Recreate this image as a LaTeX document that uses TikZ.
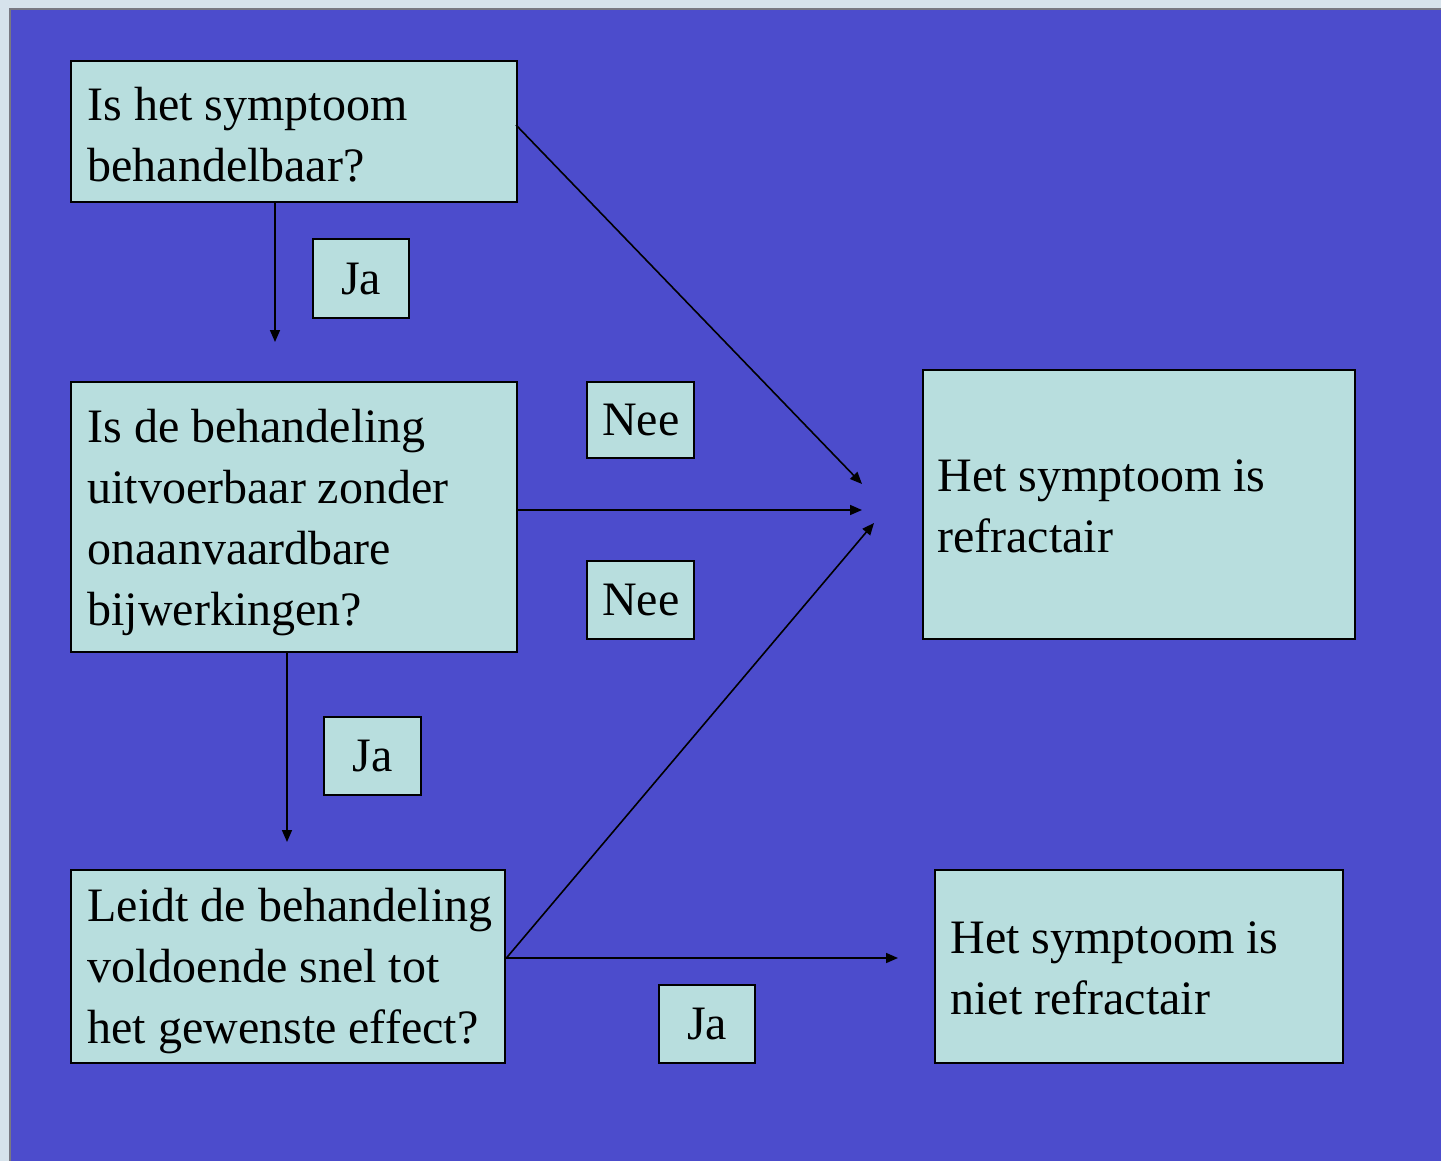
\documentclass[tikz,border=0pt]{standalone}
\usepackage{fontspec}
\setmainfont{Liberation Serif}
\usetikzlibrary{arrows.meta}
\definecolor{slideblue}{RGB}{76,76,204}
\definecolor{boxfill}{RGB}{184,222,222}
\definecolor{outerbg}{RGB}{214,226,236}
\definecolor{framegray}{RGB}{120,120,130}
\tikzset{
  box/.style={draw=black, line width=1.2pt, fill=boxfill, rectangle, inner sep=0pt, anchor=north west},
  txt/.style={align=left, inner sep=0pt, anchor=west, font=\fontsize{24}{30.5}\selectfont},
  tag/.style={box, font=\fontsize{24}{30.5}\selectfont},
  conn/.style={draw=black, line width=0.8pt, -{Triangle[length=6pt,width=5pt]}}
}
\begin{document}
\begin{tikzpicture}[x=0.5pt,y=-0.5pt]
\useasboundingbox (0,0) rectangle (1441,1161);
\fill[outerbg] (0,0) rectangle (1441,1161);
\fill[slideblue] (10,9) rectangle (1441,1161);
\draw[framegray, line width=1pt] (10,1161) -- (10,9) -- (1441,9);

% question boxes
\node[box, minimum width=223pt, minimum height=70.5pt] (q1) at (70,60) {};
\node[txt] (q1t) at ([xshift=8.5pt,yshift=-1.5pt]q1.west) {Is het symptoom\\behandelbaar?};
\node[box, minimum width=223pt, minimum height=135pt] (q2) at (70,381) {};
\node[txt] (q2t) at ([xshift=8.5pt,yshift=-2.5pt]q2.west) {Is de behandeling\\uitvoerbaar zonder\\onaanvaardbare\\bijwerkingen?};
\node[box, minimum width=217pt, minimum height=96.5pt] (q3) at (70,869) {};
\node[txt] (q3t) at ([xshift=8.5pt,yshift=-2pt]q3.west) {Leidt de behandeling\\voldoende snel tot\\het gewenste effect?};

% result boxes
\node[box, minimum width=216pt, minimum height=134.5pt] (r1) at (922,369) {};
\node[txt] (r1t) at ([xshift=7.5pt,yshift=-1pt]r1.west) {Het symptoom is\\refractair};
\node[box, minimum width=204pt, minimum height=96.5pt] (r2) at (934,869) {};
\node[txt] (r2t) at ([xshift=8pt,yshift=-1pt]r2.west) {Het symptoom is\\niet refractair};

% tags
\node[tag, minimum width=48pt, minimum height=39.5pt] (ja1) at (312,238) {Ja};
\node[tag, minimum width=48.5pt, minimum height=39pt] (ja2) at (323,716) {Ja};
\node[tag, minimum width=48pt, minimum height=39pt] (ja3) at (658,984) {Ja};
\node[tag, minimum width=53.5pt, minimum height=38pt] (nee1) at (586,381) {Nee};
\node[tag, minimum width=53.5pt, minimum height=39pt] (nee2) at (586,560) {Nee};

% arrow end points
\coordinate (e1) at (275,342);
\coordinate (e2) at (287,842);
\coordinate (e3) at (862,484);
\coordinate (e4) at (862,510);
\coordinate (e5) at (874,523);
\coordinate (e6) at (898,958);
\coordinate (s1) at (516,125);

% connectors
\draw[conn] (q1.south -| e1) -- (e1);
\draw[conn] (q2.south -| e2) -- (e2);
\draw[conn] (s1) -- (e3);
\draw[conn] (q2.east |- e4) -- (e4);
\draw[conn] (q3.east |- e6) -- (e5);
\draw[conn] (q3.east |- e6) -- (e6);
\end{tikzpicture}
\end{document}
